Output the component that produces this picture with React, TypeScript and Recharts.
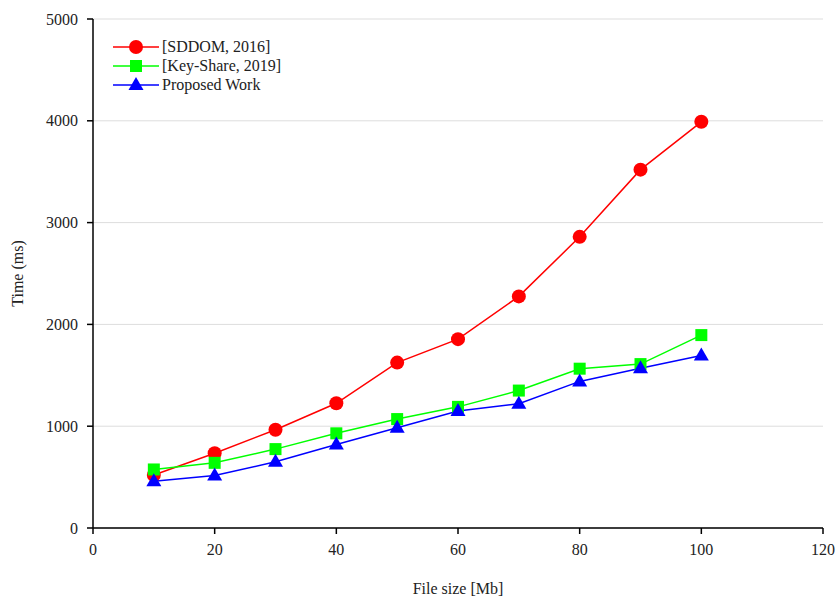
import React from 'react';
import { LineChart, Line, XAxis, YAxis, CartesianGrid, Legend, Label } from 'recharts';

const fileSizes = [10, 20, 30, 40, 50, 60, 70, 80, 90, 100];
const sddom = [520, 735, 965, 1225, 1625, 1855, 2275, 2860, 3520, 3990];
const keyShare = [575, 640, 775, 930, 1070, 1190, 1350, 1565, 1610, 1895];
const proposed = [460, 515, 650, 820, 985, 1150, 1220, 1440, 1570, 1695];
const xTicks = [0, 20, 40, 60, 80, 100, 120];
const yTicks = [0, 1000, 2000, 3000, 4000, 5000];

const seriesNames = ['[SDDOM, 2016]', '[Key-Share, 2019]', 'Proposed Work'];
const seriesColors = ['#ff0000', '#00ff00', '#0000ff'];

const data = fileSizes.map((x, i) => ({ x, a: sddom[i], b: keyShare[i], c: proposed[i] }));

const FONT = '"Liberation Serif", "Times New Roman", serif';

const Circle = (props: any) => {
  const { cx, cy } = props;
  if (cx == null || cy == null) return null;
  return <circle cx={cx} cy={cy} r={7} fill="#ff0000" stroke="none" />;
};
const Square = (props: any) => {
  const { cx, cy } = props;
  if (cx == null || cy == null) return null;
  return <rect x={cx - 6} y={cy - 6} width={12} height={12} fill="#00ff00" stroke="none" />;
};
const Tri = (props: any) => {
  const { cx, cy } = props;
  if (cx == null || cy == null) return null;
  return <polygon points={`${cx},${cy - 8} ${cx - 7.5},${cy + 5} ${cx + 7.5},${cy + 5}`} fill="#0000ff" stroke="none" />;
};

const LegendIcon = ({ i }: { i: number }) => (
  <svg width={46} height={16} style={{ display: 'block' }}>
    <line x1={0} y1={8} x2={46} y2={8} stroke={seriesColors[i]} strokeWidth={1.5} />
    {i === 0 && <circle cx={23} cy={8} r={7} fill="#ff0000" />}
    {i === 1 && <rect x={17} y={2} width={12} height={12} fill="#00ff00" />}
    {i === 2 && <polygon points="23,0 15.5,13 30.5,13" fill="#0000ff" />}
  </svg>
);

const LegendContent = () => (
  <div style={{ fontFamily: FONT, fontSize: 16, color: '#222' }}>
    {seriesNames.map((n, i) => (
      <div key={n} style={{ display: 'flex', alignItems: 'center', height: 19 }}>
        <LegendIcon i={i} />
        <span style={{ marginLeft: 3 }}>{n}</span>
      </div>
    ))}
  </div>
);

export default function App() {
  return (
    <div style={{ position: 'absolute', left: 0, top: 0, background: '#fff' }}>
      <LineChart width={836} height={598} data={data} margin={{ top: 19, right: 13, bottom: 0, left: 0 }}>
        <CartesianGrid vertical={false} stroke="#dddddd" strokeWidth={1} />
        <XAxis
          dataKey="x"
          type="number"
          domain={[0, 120]}
          ticks={xTicks}
          height={70}
          tickSize={6}
          tickMargin={10}
          stroke="#000"
          strokeWidth={1.5}
          tick={{ fontFamily: FONT, fontSize: 16, fill: '#222' }}
        >
          <Label
            content={(p: any) => {
              const vb = p.viewBox || {};
              return (
                <text x={vb.x + vb.width / 2} y={594} textAnchor="middle" fontFamily={FONT} fontSize={16} fill="#222">
                  File size [Mb]
                </text>
              );
            }}
          />
        </XAxis>
        <XAxis xAxisId="top" orientation="top" type="number" domain={[0, 120]} height={0} tick={false} tickLine={false} stroke="#000" strokeWidth={1.5} />
        <YAxis
          type="number"
          domain={[0, 5000]}
          ticks={yTicks}
          width={93}
          tickSize={6}
          tickMargin={9}
          stroke="#000"
          strokeWidth={1.5}
          tick={{ fontFamily: FONT, fontSize: 16, fill: '#222' }}
        >
          <Label
            content={(p: any) => {
              const vb = p.viewBox || {};
              const cy = vb.y + vb.height / 2;
              return (
                <text x={23} y={cy} transform={`rotate(-90, 23, ${cy})`} textAnchor="middle" fontFamily={FONT} fontSize={16} fill="#222">
                  Time (ms)
                </text>
              );
            }}
          />
        </YAxis>
        <YAxis yAxisId="right" orientation="right" type="number" domain={[0, 5000]} width={0} tick={false} tickLine={false} stroke="#000" strokeWidth={1.5} />
        <Legend content={<LegendContent />} layout="vertical" verticalAlign="middle" align="center" wrapperStyle={{ left: 113, top: 37, width: 200 }} />
        <Line dataKey="a" name={seriesNames[0]} stroke="#ff0000" strokeWidth={1.5} dot={<Circle />} activeDot={false} isAnimationActive={false} />
        <Line dataKey="b" name={seriesNames[1]} stroke="#00ff00" strokeWidth={1.5} dot={<Square />} activeDot={false} isAnimationActive={false} />
        <Line dataKey="c" name={seriesNames[2]} stroke="#0000ff" strokeWidth={1.5} dot={<Tri />} activeDot={false} isAnimationActive={false} />
      </LineChart>
    </div>
  );
}
